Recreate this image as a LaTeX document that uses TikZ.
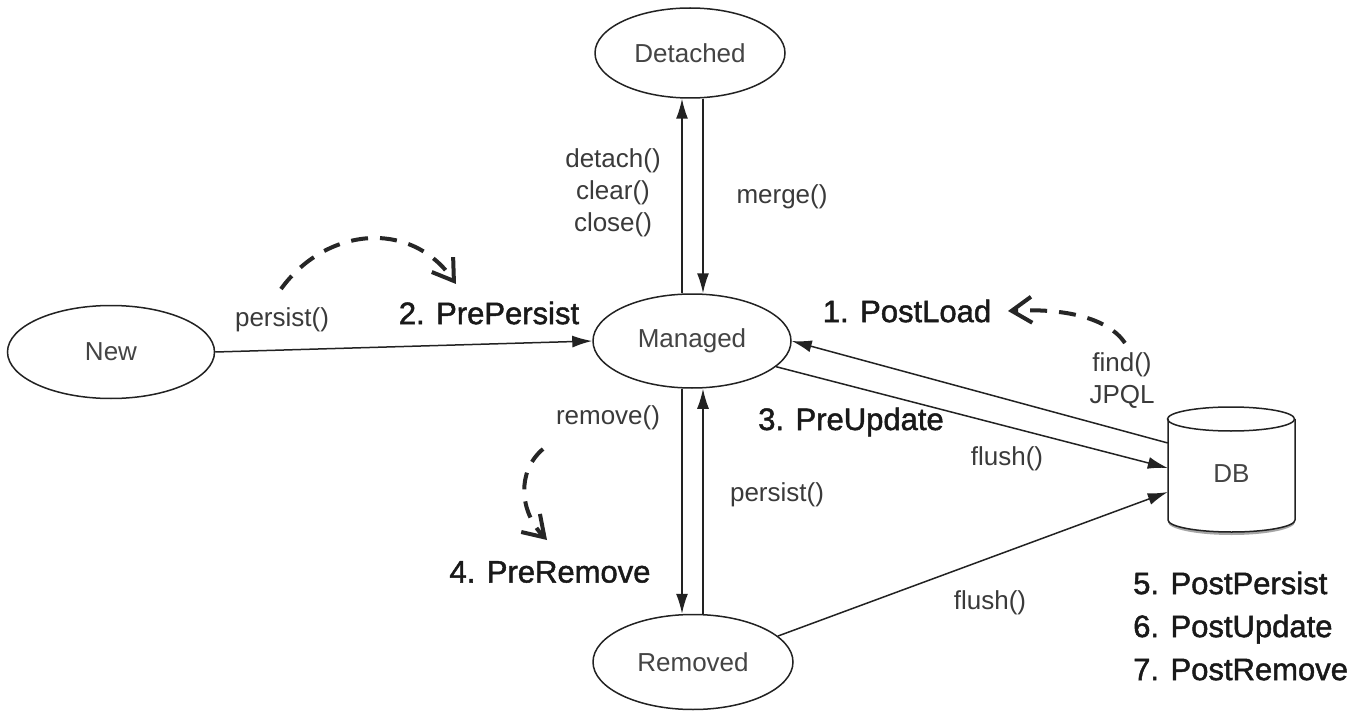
\documentclass[tikz,border=0pt]{standalone}
\usepackage{fontspec}
\setmainfont{Liberation Sans}
\newfontfamily\cbfont{Liberation Sans}[BoldFont=Liberation Sans, BoldFeatures={FakeBold=1.5}]
\usetikzlibrary{arrows.meta,shapes.geometric,calc}
\definecolor{linec}{HTML}{222222}
\definecolor{txtgray}{HTML}{444444}
\definecolor{methgray}{HTML}{3A3A3A}
\begin{document}
\begin{tikzpicture}[x=1pt,y=-1pt,
  state/.style={ellipse, draw=linec, line width=1.5pt, inner sep=0pt, text=txtgray, font=\fontsize{26}{30}\selectfont},
  meth/.style={text=methgray, font=\fontsize{26}{32}\selectfont, align=center, inner sep=0pt},
  cb/.style={text=black!90, font=\cbfont\bfseries\fontsize{31}{43}\selectfont, inner sep=0pt},
  conn/.style={draw=linec, line width=1.5pt, -{Latex[length=20pt,width=12pt]}},
  hint/.style={draw=black!85, line width=4pt, dash pattern=on 17pt off 12pt, -{Straight Barb[length=20pt,width=26pt,line width=4pt]}}]
\useasboundingbox (0,0) rectangle (1368,722);
\fill[white] (0,0) rectangle (1368,722);

% states
\node[state, minimum width=190pt, minimum height=90pt] (detached) at (690,53) {Detached};
\node[state, minimum width=198pt, minimum height=94pt] (managed) at (692,341) {Managed};
\node[state, minimum width=207pt, minimum height=93pt] (new) at (111,352) {New};
\node[state, minimum width=200pt, minimum height=95pt] (removed) at (693,662) {Removed};

% DB cylinder
\fill[black!35] (1168,522) arc[start angle=180, end angle=360, x radius=63.5pt, y radius=13pt] -- ++(0,-3) arc[start angle=0, end angle=-180, x radius=63.5pt, y radius=11pt] -- cycle;
\fill[white] (1168,419) -- (1168,520) arc[start angle=180, end angle=360, x radius=63.5pt, y radius=12pt] -- (1295,419) -- cycle;
\draw[linec, line width=1.5pt] (1231,419) ellipse [x radius=63.5pt, y radius=12pt];
\draw[linec, line width=1.5pt] (1168,419) -- (1168,520) arc[start angle=180, end angle=360, x radius=63.5pt, y radius=12pt] -- (1295,419);
\node[rectangle, minimum width=127pt, minimum height=101pt, inner sep=0pt, text=txtgray, font=\fontsize{26}{30}\selectfont] (db) at (1231.5,474) {DB};

% vertical connectors
\draw[conn] ([xshift=-10pt]managed.north) -- ([xshift=-10pt]managed.north |- detached.south);
\draw[conn] ([xshift=11pt]managed.north |- detached.south) -- ([xshift=11pt]managed.north);
\draw[conn] ([xshift=-10pt]managed.south) -- ([xshift=-10pt]managed.south |- removed.north);
\draw[conn] ([xshift=11pt]managed.south |- removed.north) -- ([xshift=11pt]managed.south);

% horizontal / diagonal connectors
\draw[conn] (new.east) -- (managed.west);
\draw[conn] ([yshift=31pt]db.west) -- (managed.east);
\draw[conn] (managed.-17) -- ([yshift=6pt]db.west);
\draw[conn] (removed.17) -- ([yshift=-18pt]db.west);

% dashed hint arrows
\coordinate (h1s) at (281,289);
\coordinate (h1e) at (456,284);
\draw[hint] (h1s) .. controls (325,228) and (410,218) .. (h1e);
\coordinate (h2s) at (1125,343);
\coordinate (h2e) at (1008,311);
\draw[hint] (h2s) .. controls (1108,318) and (1065,308) .. (h2e);
\coordinate (h3s) at (543,449);
\coordinate (h3e) at (547,540);
\draw[hint] (h3s) .. controls (516,472) and (520,512) .. (h3e);

% method labels
\node[meth] (lpersist) at (282,320) {persist()};
\node[meth] (ldetach) at (613,193) {detach()\\clear()\\close()};
\node[meth] (lmerge) at (782,197) {merge()};
\node[meth] (lfind) at (1122,381) {find()\\JPQL};
\node[meth] (lremove) at (608,418) {remove()};
\node[meth] (lflush1) at (1007,459) {flush()};
\node[meth] (lpersist2) at (777,495) {persist()};
\node[meth] (lflush2) at (990,603) {flush()};

% callback labels
\node[cb] (cpre) at (489,313) {2. PrePersist};
\node[cb] (cload) at (907,311) {1. PostLoad};
\node[cb] (cupd) at (851,422) {3. PreUpdate};
\node[cb] (crem) at (550,572) {4. PreRemove};
\node[cb, align=left, anchor=west] (cpost) at (1133,626) {5. PostPersist\\6. PostUpdate\\7. PostRemove};
\end{tikzpicture}
\end{document}
